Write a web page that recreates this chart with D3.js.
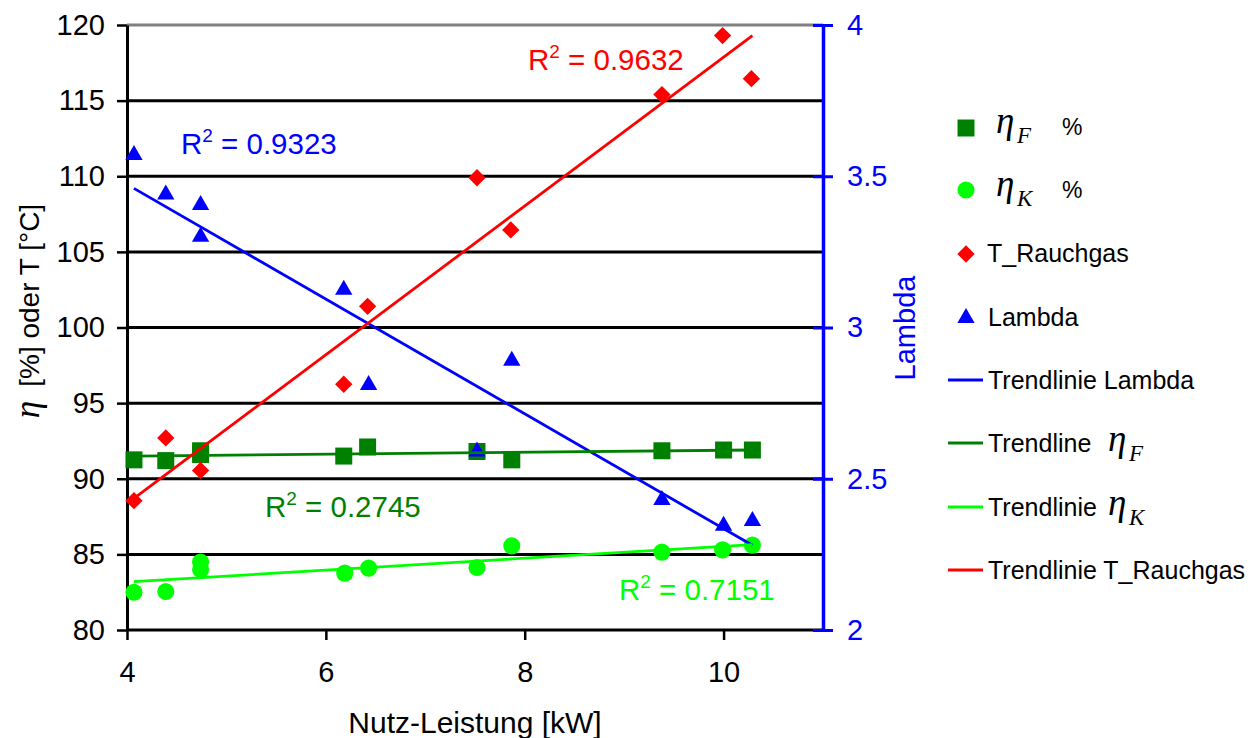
<!DOCTYPE html>
<html>
<head>
<meta charset="utf-8">
<script src="https://cdn.jsdelivr.net/npm/d3@7"></script>
<style>
  body { margin: 0; background: #fff; }
  text { font-family: "Liberation Sans", Arial, sans-serif; }
  .serif { font-family: "Liberation Serif", "Times New Roman", serif; font-style: italic; }
</style>
</head>
<body>
<div id="chart"></div>
<script>
var w = 1254;
var h = 738;

var xF = [4.07, 4.39, 4.74, 4.74, 6.18, 6.42, 7.52, 7.87, 9.38, 10.0, 10.29];
var etaF = [91.25, 91.2, 91.6, 91.85, 91.5, 92.1, 91.8, 91.25, 91.85, 91.9, 91.9];

var xK = [4.07, 4.39, 4.74, 4.74, 6.19, 6.43, 7.52, 7.87, 9.38, 9.99, 10.29];
var etaK = [82.5, 82.55, 84.5, 84.0, 83.76, 84.09, 84.13, 85.56, 85.15, 85.3, 85.61];

var xT = [4.07, 4.39, 4.74, 6.18, 6.42, 7.52, 7.86, 9.38, 9.99, 10.28];
var tRauch = [88.55, 92.7, 90.55, 96.25, 101.4, 109.9, 106.45, 115.4, 119.3, 116.45];

var xL = [4.07, 4.39, 4.74, 4.74, 6.18, 6.43, 7.52, 7.87, 9.38, 10.0, 10.29];
var lambda = [3.57, 3.44, 3.405, 3.30, 3.125, 2.81, 2.59, 2.89, 2.43, 2.345, 2.36];

// trendline end points (start, end)
var trendX = [4.07, 10.29];
var trendLambda = [3.46, 2.28];
var trendEtaF = [91.5, 91.9];
var trendEtaK = [83.2, 85.65];
var trendT = [88.7, 119.3];

var xTicks = [4, 6, 8, 10];
var yTicks = [80, 85, 90, 95, 100, 105, 110, 115, 120];
var lTicks = [2, 2.5, 3, 3.5, 4];

var cDark = "#008000", cLight = "#00ff00", cRed = "#ff0000", cBlue = "#0000ff";

var svg = d3.select("#chart").append("svg")
  .attr("width", w)
  .attr("height", h);

var x = d3.scaleLinear().domain([4, 11]).range([127, 823]);
var y = d3.scaleLinear().domain([80, 120]).range([630, 25]);
var yL = d3.scaleLinear().domain([2, 4]).range([630, 25]);

// grid lines
svg.selectAll("line.grid")
  .data(yTicks)
  .enter()
  .append("line")
  .attr("class", "grid")
  .attr("x1", x(4))
  .attr("x2", x(11))
  .attr("y1", function(d) { return y(d); })
  .attr("y2", function(d) { return y(d); })
  .attr("stroke", function(d) { return d == 120 ? "#808080" : "#000"; })
  .attr("stroke-width", 3);

// left axis
var gLeft = svg.append("g")
  .attr("transform", "translate(" + x(4) + ",0)")
  .call(d3.axisLeft(y).tickValues(yTicks).tickSize(10).tickSizeOuter(0).tickPadding(12).tickFormat(d3.format("")));
gLeft.select(".domain").attr("stroke", "#000").attr("stroke-width", 3);
gLeft.selectAll(".tick line").attr("stroke", "#000").attr("stroke-width", 2.5);
gLeft.selectAll(".tick text").attr("font-size", 29).attr("fill", "#000")
  .attr("font-family", "Liberation Sans, Arial, sans-serif");

// bottom axis
var gBottom = svg.append("g")
  .attr("transform", "translate(0," + y(80) + ")")
  .call(d3.axisBottom(x).tickValues(xTicks).tickSize(10).tickSizeOuter(0).tickPadding(21).tickFormat(d3.format("")));
gBottom.select(".domain").remove();
gBottom.selectAll(".tick line").attr("stroke", "#000").attr("stroke-width", 2.5);
gBottom.selectAll(".tick text").attr("font-size", 29).attr("fill", "#000")
  .attr("font-family", "Liberation Sans, Arial, sans-serif");

// right axis (Lambda)
var gRight = svg.append("g")
  .attr("transform", "translate(" + x(11) + ",0)")
  .call(d3.axisRight(yL).tickValues(lTicks).tickSize(10).tickSizeOuter(0).tickPadding(14).tickFormat(d3.format("")));
gRight.select(".domain").attr("stroke", cBlue).attr("stroke-width", 3.5);
gRight.selectAll(".tick line").attr("stroke", cBlue).attr("stroke-width", 3).attr("x1", -10);
gRight.selectAll(".tick text").attr("font-size", 29).attr("fill", cBlue)
  .attr("font-family", "Liberation Sans, Arial, sans-serif");

// axis titles
svg.append("text")
  .attr("x", 475)
  .attr("y", 733)
  .attr("text-anchor", "middle")
  .attr("font-size", 30)
  .text("Nutz-Leistung [kW]");

var yTitle = svg.append("text")
  .attr("transform", "translate(39,311) rotate(-90)")
  .attr("text-anchor", "middle")
  .attr("font-size", 28);
yTitle.append("tspan").attr("class", "serif").attr("font-size", 35).text("η");
yTitle.append("tspan").attr("dx", 14).text("[%] oder T [°C]");

svg.append("text")
  .attr("transform", "translate(915,328) rotate(-90)")
  .attr("text-anchor", "middle")
  .attr("font-size", 29)
  .attr("fill", cBlue)
  .text("Lambda");

// markers
function pts(xs, ys) {
  return xs.map(function(d, i) { return [d, ys[i]]; });
}

svg.selectAll("path.sqF")
  .data(pts(xF, etaF))
  .enter()
  .append("path")
  .attr("class", "sqF")
  .attr("d", d3.symbol().type(d3.symbolSquare).size(289))
  .attr("transform", function(d) { return "translate(" + x(d[0]) + "," + y(d[1]) + ")"; })
  .attr("fill", cDark);

svg.selectAll("path.ciK")
  .data(pts(xK, etaK))
  .enter()
  .append("path")
  .attr("class", "ciK")
  .attr("d", d3.symbol().type(d3.symbolCircle).size(230))
  .attr("transform", function(d) { return "translate(" + x(d[0]) + "," + y(d[1]) + ")"; })
  .attr("fill", cLight);

svg.selectAll("path.diT")
  .data(pts(xT, tRauch))
  .enter()
  .append("path")
  .attr("class", "diT")
  .attr("d", d3.symbol().type(d3.symbolSquare).size(150))
  .attr("transform", function(d) { return "translate(" + x(d[0]) + "," + y(d[1]) + ") rotate(45)"; })
  .attr("fill", cRed);

svg.selectAll("path.trL")
  .data(pts(xL, lambda))
  .enter()
  .append("path")
  .attr("class", "trL")
  .attr("d", d3.symbol().type(d3.symbolTriangle).size(130))
  .attr("transform", function(d) { return "translate(" + x(d[0]) + "," + yL(d[1]) + ")"; })
  .attr("fill", cBlue);

// trendlines
var trends = [
  { v: trendLambda, s: yL, c: cBlue },
  { v: trendEtaF, s: y, c: cDark },
  { v: trendEtaK, s: y, c: cLight },
  { v: trendT, s: y, c: cRed }
];
svg.selectAll("line.trend")
  .data(trends)
  .enter()
  .append("line")
  .attr("class", "trend")
  .attr("x1", x(trendX[0]))
  .attr("x2", x(trendX[1]))
  .attr("y1", function(d) { return d.s(d.v[0]); })
  .attr("y2", function(d) { return d.s(d.v[1]); })
  .attr("stroke", function(d) { return d.c; })
  .attr("stroke-width", 2.8);

// R² labels
var r2 = [
  { t: "0.9323", x: 181, y: 154, c: cBlue },
  { t: "0.9632", x: 528, y: 70, c: cRed },
  { t: "0.2745", x: 265, y: 517, c: cDark },
  { t: "0.7151", x: 619, y: 600, c: cLight }
];
r2.forEach(function(d) {
  var t = svg.append("text")
    .attr("x", d.x)
    .attr("y", d.y)
    .attr("font-size", 29.5)
    .attr("fill", d.c);
  t.append("tspan").text("R");
  t.append("tspan").attr("dy", -12).attr("font-size", 19).text("2");
  t.append("tspan").attr("dy", 12).text(" = " + d.t);
});

// legend
var lx = 966;
var leg = svg.append("g");
leg.append("path").attr("d", d3.symbol().type(d3.symbolSquare).size(289))
  .attr("transform", "translate(" + lx + ",128)").attr("fill", cDark);
leg.append("path").attr("d", d3.symbol().type(d3.symbolCircle).size(230))
  .attr("transform", "translate(" + lx + ",190)").attr("fill", cLight);
leg.append("path").attr("d", d3.symbol().type(d3.symbolSquare).size(150))
  .attr("transform", "translate(" + lx + ",254) rotate(45)").attr("fill", cRed);
leg.append("path").attr("d", d3.symbol().type(d3.symbolTriangle).size(130))
  .attr("transform", "translate(" + lx + ",318)").attr("fill", cBlue);

function eta(px, py, sub) {
  leg.append("text").attr("class", "serif").attr("x", px).attr("y", py)
    .attr("font-size", 37).text("η");
  leg.append("text").attr("class", "serif").attr("x", px + 21).attr("y", py + 10)
    .attr("font-size", 23).text(sub);
}
eta(996, 133, "F");
leg.append("text").attr("x", 1062).attr("y", 135).attr("font-size", 23).text("%");
eta(996, 196, "K");
leg.append("text").attr("x", 1062).attr("y", 198).attr("font-size", 23).text("%");

leg.append("text").attr("x", 987).attr("y", 262).attr("font-size", 25).text("T_Rauchgas");
leg.append("text").attr("x", 988).attr("y", 326).attr("font-size", 25).text("Lambda");

var legLines = [
  { c: cBlue, y: 380, t: "Trendlinie Lambda" },
  { c: cDark, y: 443, t: "Trendline" },
  { c: cLight, y: 507, t: "Trendlinie" },
  { c: cRed, y: 570, t: "Trendlinie T_Rauchgas" }
];
legLines.forEach(function(d) {
  leg.append("line").attr("x1", 948).attr("x2", 983).attr("y1", d.y).attr("y2", d.y)
    .attr("stroke", d.c).attr("stroke-width", 3);
  leg.append("text").attr("x", 988).attr("y", d.y + 9).attr("font-size", 25).text(d.t);
});
eta(1108, 451, "F");
eta(1108, 515, "K");
</script>
</body>
</html>
